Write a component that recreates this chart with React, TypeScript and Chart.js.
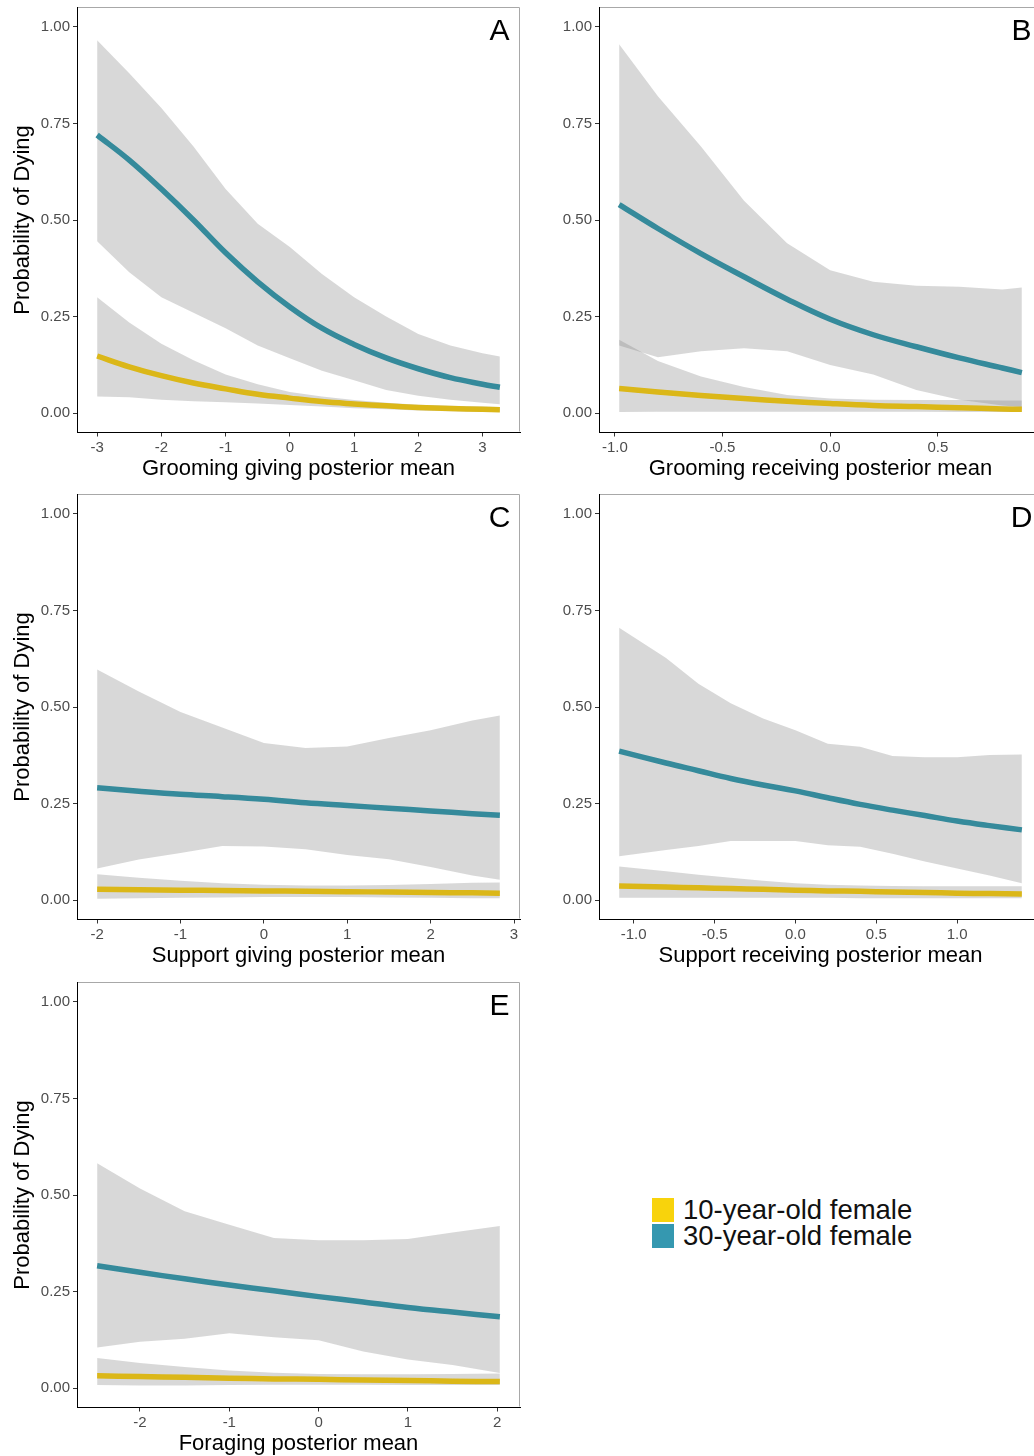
import React, { useEffect, useRef } from "react";
import { Chart, registerables } from "chart.js";

Chart.register(...registerables);

// ---------- shared axis data ----------
const Y_TICKS = [0, 0.25, 0.5, 0.75, 1];
const Y_TICK_LABELS = ["0.00", "0.25", "0.50", "0.75", "1.00"];
const Y_TITLE = "Probability of Dying";
const SERIES_NAMES = ["10-year-old female", "30-year-old female"];

// ---------- Panel A: Grooming giving ----------
const A_X = [-3, -2.5, -2, -1.5, -1, -0.5, 0, 0.5, 1, 1.5, 2, 2.5, 3, 3.27];
const A_OLD = [0.72, 0.655, 0.58, 0.5, 0.415, 0.34, 0.275, 0.22, 0.178, 0.143, 0.115, 0.092, 0.075, 0.067];
const A_YOUNG = [0.148, 0.12, 0.097, 0.078, 0.063, 0.049, 0.039, 0.03, 0.024, 0.019, 0.015, 0.012, 0.01, 0.009];
const A_OLD_UP = [0.965, 0.88, 0.79, 0.69, 0.58, 0.49, 0.43, 0.36, 0.3, 0.25, 0.205, 0.175, 0.155, 0.147];
const A_OLD_LOW = [0.445, 0.365, 0.3, 0.26, 0.22, 0.175, 0.142, 0.11, 0.085, 0.06, 0.045, 0.035, 0.027, 0.023];
const A_YOUNG_UP = [0.3, 0.235, 0.18, 0.137, 0.1, 0.075, 0.055, 0.043, 0.034, 0.027, 0.022, 0.019, 0.017, 0.016];
const A_YOUNG_LOW = [0.043, 0.041, 0.035, 0.031, 0.028, 0.025, 0.021, 0.017, 0.013, 0.01, 0.007, 0.005, 0.004, 0.003];
const A_X_TICKS = [-3, -2, -1, 0, 1, 2, 3];
const A_X_LABELS = ["-3", "-2", "-1", "0", "1", "2", "3"];

// ---------- Panel B: Grooming receiving ----------
const B_X = [-0.98, -0.8, -0.6, -0.4, -0.2, 0, 0.2, 0.4, 0.6, 0.8, 0.89];
const B_OLD = [0.54, 0.478, 0.413, 0.353, 0.295, 0.243, 0.203, 0.172, 0.143, 0.117, 0.105];
const B_YOUNG = [0.064, 0.055, 0.046, 0.038, 0.031, 0.025, 0.02, 0.017, 0.014, 0.011, 0.01];
const B_OLD_UP = [0.955, 0.82, 0.69, 0.55, 0.44, 0.37, 0.34, 0.33, 0.327, 0.32, 0.325];
const B_OLD_LOW = [0.175, 0.145, 0.16, 0.168, 0.16, 0.125, 0.1, 0.06, 0.035, 0.02, 0.016];
const B_YOUNG_UP = [0.19, 0.135, 0.095, 0.068, 0.047, 0.038, 0.035, 0.034, 0.034, 0.033, 0.033];
const B_YOUNG_LOW = [0.003, 0.004, 0.004, 0.004, 0.004, 0.004, 0.004, 0.004, 0.003, 0.003, 0.003];
const B_X_TICKS = [-1, -0.5, 0, 0.5];
const B_X_LABELS = ["-1.0", "-0.5", "0.0", "0.5"];

// ---------- Panel C: Support giving ----------
const C_X = [-2, -1.5, -1, -0.5, 0, 0.5, 1, 1.5, 2, 2.5, 2.83];
const C_OLD = [0.291, 0.282, 0.274, 0.268, 0.261, 0.252, 0.245, 0.238, 0.231, 0.224, 0.22];
const C_YOUNG = [0.028, 0.027, 0.026, 0.025, 0.024, 0.023, 0.022, 0.021, 0.02, 0.019, 0.018];
const C_OLD_UP = [0.597, 0.54, 0.487, 0.447, 0.407, 0.394, 0.398, 0.42, 0.44, 0.465, 0.478];
const C_OLD_LOW = [0.082, 0.105, 0.122, 0.14, 0.139, 0.132, 0.117, 0.106, 0.086, 0.064, 0.053];
const C_YOUNG_UP = [0.067, 0.058, 0.05, 0.044, 0.04, 0.038, 0.038, 0.039, 0.042, 0.045, 0.046];
const C_YOUNG_LOW = [0.004, 0.005, 0.006, 0.007, 0.008, 0.008, 0.008, 0.007, 0.006, 0.005, 0.005];
const C_X_TICKS = [-2, -1, 0, 1, 2, 3];
const C_X_LABELS = ["-2", "-1", "0", "1", "2", "3"];

// ---------- Panel D: Support receiving ----------
const D_X = [-1.09, -0.8, -0.6, -0.4, -0.2, 0, 0.2, 0.4, 0.6, 0.8, 1.0, 1.2, 1.4];
const D_OLD = [0.386, 0.355, 0.335, 0.315, 0.298, 0.283, 0.265, 0.248, 0.233, 0.219, 0.205, 0.193, 0.182];
const D_YOUNG = [0.037, 0.034, 0.032, 0.03, 0.028, 0.026, 0.024, 0.023, 0.021, 0.02, 0.018, 0.017, 0.016];
const D_OLD_UP = [0.705, 0.627, 0.56, 0.51, 0.47, 0.44, 0.405, 0.397, 0.373, 0.37, 0.37, 0.376, 0.377];
const D_OLD_LOW = [0.114, 0.13, 0.14, 0.153, 0.153, 0.153, 0.142, 0.138, 0.12, 0.1, 0.082, 0.064, 0.044];
const D_YOUNG_UP = [0.087, 0.075, 0.066, 0.058, 0.05, 0.044, 0.04, 0.038, 0.037, 0.036, 0.036, 0.036, 0.036];
const D_YOUNG_LOW = [0.006, 0.006, 0.006, 0.006, 0.006, 0.006, 0.006, 0.005, 0.005, 0.005, 0.005, 0.005, 0.005];
const D_X_TICKS = [-1, -0.5, 0, 0.5, 1];
const D_X_LABELS = ["-1.0", "-0.5", "0.0", "0.5", "1.0"];

// ---------- Panel E: Foraging ----------
const E_X = [-2.48, -2, -1.5, -1, -0.5, 0, 0.5, 1, 1.5, 2.03];
const E_OLD = [0.317, 0.3, 0.283, 0.267, 0.252, 0.237, 0.223, 0.209, 0.197, 0.185];
const E_YOUNG = [0.032, 0.03, 0.028, 0.026, 0.024, 0.023, 0.021, 0.02, 0.018, 0.017];
const E_OLD_UP = [0.582, 0.517, 0.458, 0.423, 0.389, 0.383, 0.383, 0.386, 0.403, 0.42];
const E_OLD_LOW = [0.105, 0.12, 0.128, 0.142, 0.132, 0.124, 0.095, 0.074, 0.06, 0.039];
const E_YOUNG_UP = [0.078, 0.065, 0.055, 0.046, 0.04, 0.037, 0.036, 0.036, 0.037, 0.038];
const E_YOUNG_LOW = [0.008, 0.007, 0.007, 0.008, 0.009, 0.009, 0.009, 0.008, 0.008, 0.008];
const E_X_TICKS = [-2, -1, 0, 1, 2];
const E_X_LABELS = ["-2", "-1", "0", "1", "2"];

// ---------- styling ----------
const FONT = '"Liberation Sans", Arial, Helvetica, sans-serif';
const TEAL_LINE = "#358a9b";
const YELLOW_LINE = "#dbb718";
const LEGEND_YELLOW = "#f8d30c";
const LEGEND_TEAL = "#3598b0";
const RIBBON = "rgba(127,127,127,0.3)";
const FRAME_GREY = "#a8a8a8";

const CANVAS_W = 530;
const CANVAS_H = 490;
const PLOT_W = 443;
const PLOT_H = 425;
const PAD_TOP = 7.5;

type Panel = {
  letter: string;
  xTitle: string;
  x: number[];
  old: number[];
  young: number[];
  oldUp: number[];
  oldLow: number[];
  youngUp: number[];
  youngLow: number[];
  xTicks: number[];
  xLabels: string[];
  left: number;
  top: number;
  yAxisW: number;
  yTitle: boolean;
};

const PANELS: Panel[] = [
  { letter: "A", xTitle: "Grooming giving posterior mean", x: A_X, old: A_OLD, young: A_YOUNG, oldUp: A_OLD_UP, oldLow: A_OLD_LOW, youngUp: A_YOUNG_UP, youngLow: A_YOUNG_LOW, xTicks: A_X_TICKS, xLabels: A_X_LABELS, left: 0, top: 0, yAxisW: 77, yTitle: true },
  { letter: "B", xTitle: "Grooming receiving posterior mean", x: B_X, old: B_OLD, young: B_YOUNG, oldUp: B_OLD_UP, oldLow: B_OLD_LOW, youngUp: B_YOUNG_UP, youngLow: B_YOUNG_LOW, xTicks: B_X_TICKS, xLabels: B_X_LABELS, left: 520, top: 0, yAxisW: 79, yTitle: false },
  { letter: "C", xTitle: "Support giving posterior mean", x: C_X, old: C_OLD, young: C_YOUNG, oldUp: C_OLD_UP, oldLow: C_OLD_LOW, youngUp: C_YOUNG_UP, youngLow: C_YOUNG_LOW, xTicks: C_X_TICKS, xLabels: C_X_LABELS, left: 0, top: 487, yAxisW: 77, yTitle: true },
  { letter: "D", xTitle: "Support receiving posterior mean", x: D_X, old: D_OLD, young: D_YOUNG, oldUp: D_OLD_UP, oldLow: D_OLD_LOW, youngUp: D_YOUNG_UP, youngLow: D_YOUNG_LOW, xTicks: D_X_TICKS, xLabels: D_X_LABELS, left: 520, top: 487, yAxisW: 79, yTitle: false },
  { letter: "E", xTitle: "Foraging posterior mean", x: E_X, old: E_OLD, young: E_YOUNG, oldUp: E_OLD_UP, oldLow: E_OLD_LOW, youngUp: E_YOUNG_UP, youngLow: E_YOUNG_LOW, xTicks: E_X_TICKS, xLabels: E_X_LABELS, left: 0, top: 975, yAxisW: 77, yTitle: true },
];

const pts = (xs: number[], ys: number[]) => xs.map((x, i) => ({ x, y: ys[i] }));

function framePlugin(letter: string) {
  return {
    id: "frame" + letter,
    afterDraw(chart: any) {
      const { ctx, chartArea: a } = chart;
      ctx.save();
      ctx.strokeStyle = FRAME_GREY;
      ctx.lineWidth = 1;
      const t = Math.floor(a.top) + 0.5;
      const r = Math.round(a.right) - 0.5;
      ctx.beginPath();
      ctx.moveTo(a.left + 1, t);
      ctx.lineTo(r, t);
      ctx.lineTo(r, a.bottom - 1);
      ctx.stroke();
      ctx.fillStyle = "#000";
      ctx.font = "30px " + FONT;
      ctx.textAlign = "center";
      ctx.textBaseline = "middle";
      ctx.fillText(letter, a.right - 20.5, a.top + 24);
      ctx.restore();
    },
  };
}

function lineDs(xs: number[], ys: number[], color: string) {
  return {
    data: pts(xs, ys),
    borderColor: color,
    borderWidth: 5.5,
    pointRadius: 0,
    fill: false,
    tension: 0.4,
    borderCapStyle: "butt",
    order: 0,
  };
}

function bandDs(xs: number[], ys: number[], fillTarget: number | false) {
  return {
    data: pts(xs, ys),
    borderColor: "rgba(0,0,0,0)",
    borderWidth: 0,
    pointRadius: 0,
    backgroundColor: RIBBON,
    fill: fillTarget,
    tension: 0,
    order: 1,
  };
}

function PanelChart({ p }: { p: Panel }) {
  const ref = useRef<HTMLCanvasElement>(null);
  useEffect(() => {
    if (!ref.current) return;
    const x0 = p.x[0];
    const x1 = p.x[p.x.length - 1];
    const span = x1 - x0;
    const chart = new Chart(ref.current, {
      type: "line",
      data: {
        datasets: [
          lineDs(p.x, p.old, TEAL_LINE),
          lineDs(p.x, p.young, YELLOW_LINE),
          bandDs(p.x, p.oldLow, false),
          bandDs(p.x, p.oldUp, 2),
          bandDs(p.x, p.youngLow, false),
          bandDs(p.x, p.youngUp, 4),
        ] as any,
      },
      options: {
        animation: false,
        responsive: false,
        events: [],
        layout: {
          padding: { top: PAD_TOP, right: CANVAS_W - p.yAxisW - PLOT_W, left: 0, bottom: 0 },
        },
        plugins: { legend: { display: false }, tooltip: { enabled: false } },
        scales: {
          x: {
            type: "linear",
            min: x0 - 0.05 * span,
            max: x1 + 0.05 * span,
            afterBuildTicks: (s: any) => {
              s.ticks = p.xTicks.map((v) => ({ value: v }));
            },
            afterFit: (s: any) => {
              s.height = CANVAS_H - PAD_TOP - PLOT_H;
              s.paddingLeft = 0;
              s.paddingRight = 0;
            },
            ticks: {
              autoSkip: false,
              maxRotation: 0,
              padding: 2.5,
              color: "#4d4d4d",
              font: { family: FONT, size: 15 },
              callback: (_v: any, i: number) => p.xLabels[i],
            },
            grid: { drawOnChartArea: false, drawTicks: true, tickLength: 4, color: "#333333" },
            border: { display: true, color: "#000", width: 1 },
            title: {
              display: true,
              text: p.xTitle,
              color: "#000",
              font: { family: FONT, size: 22 },
              padding: { top: 0, bottom: 7.5 },
            },
          },
          y: {
            type: "linear",
            min: -0.05,
            max: 1.05,
            afterBuildTicks: (s: any) => {
              s.ticks = Y_TICKS.map((v) => ({ value: v }));
            },
            afterFit: (s: any) => {
              s.width = p.yAxisW;
              s.paddingTop = 0;
              s.paddingBottom = 0;
            },
            ticks: {
              autoSkip: false,
              padding: 3,
              color: "#4d4d4d",
              font: { family: FONT, size: 15 },
              callback: (_v: any, i: number) => Y_TICK_LABELS[i],
            },
            grid: { drawOnChartArea: false, drawTicks: true, tickLength: 4, color: "#333333" },
            border: { display: true, color: "#000", width: 1 },
            title: {
              display: p.yTitle,
              text: Y_TITLE,
              color: "#000",
              font: { family: FONT, size: 22 },
              padding: { top: 10, bottom: 0 },
            },
          },
        },
      } as any,
      plugins: [framePlugin(p.letter)],
    });
    return () => chart.destroy();
  }, [p]);
  return (
    <canvas
      ref={ref}
      width={CANVAS_W}
      height={CANVAS_H}
      style={{ position: "absolute", left: p.left, top: p.top, width: CANVAS_W, height: CANVAS_H }}
    />
  );
}

export default function App() {
  const legendColors = [LEGEND_YELLOW, LEGEND_TEAL];
  return (
    <div
      style={{
        position: "absolute",
        left: 0,
        top: 0,
        width: 1034,
        height: 1456,
        overflow: "hidden",
        background: "#fff",
      }}
    >
      {PANELS.map((p) => (
        <PanelChart key={p.letter} p={p} />
      ))}
      <div style={{ position: "absolute", left: 652, top: 1197, fontFamily: FONT, fontSize: 27.5, color: "#111" }}>
        {SERIES_NAMES.map((n, i) => (
          <div key={n} style={{ display: "flex", alignItems: "center", height: 25, marginBottom: 1 }}>
            <span style={{ display: "inline-block", width: 22, height: 24, background: legendColors[i] }} />
            <span style={{ marginLeft: 9, lineHeight: "25px", whiteSpace: "nowrap" }}>{n}</span>
          </div>
        ))}
      </div>
    </div>
  );
}
